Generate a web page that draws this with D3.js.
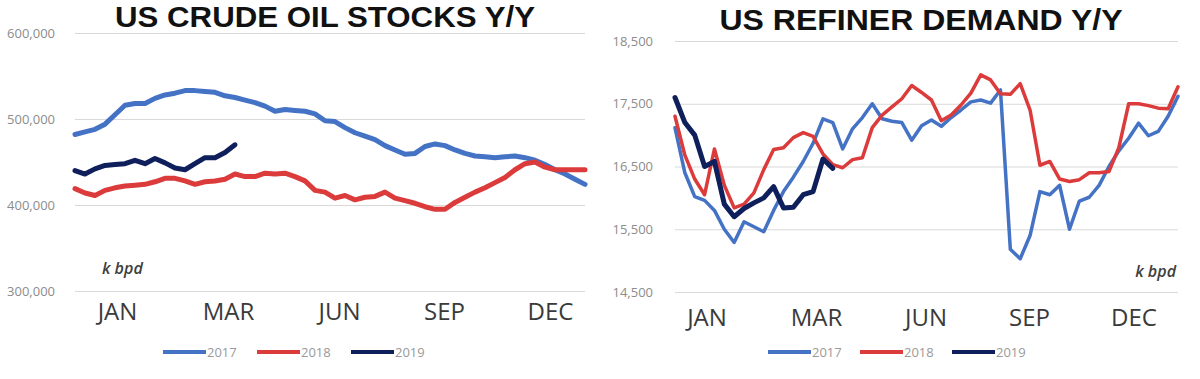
<!DOCTYPE html>
<html>
<head>
<meta charset="utf-8">
<script src="https://cdn.jsdelivr.net/npm/d3@7"></script>
<style>
  body { margin: 0; background: #fff; }
  svg { display: block; }
</style>
</head>
<body>
<svg id="chart" width="1200" height="379"></svg>
<script>
var years = ['2017', '2018', '2019'];
var colors = ['#4472C4', '#DB3B3B', '#0E1F5C'];
var months = ['JAN', 'MAR', 'JUN', 'SEP', 'DEC'];
var monthWeeks = [3.7, 14.8, 25.9, 36.4, 47];

// crude oil stocks, weekly (k bpd)
var stocks2017 = [482000, 485000, 488000, 494000, 505000, 516000, 518000, 518000, 524000, 528000,
  530000, 533000, 533000, 532000, 531000, 527000, 525000, 522000, 519000, 515000,
  509000, 511000, 510000, 509000, 506000, 498000, 497000, 490000, 484000, 480000,
  476000, 469000, 464000, 459000, 460000, 468000, 471000, 469000, 464000, 460000,
  457000, 456000, 455000, 456000, 457000, 455000, 452000, 447000, 441000, 436000,
  430000, 424000];
var stocks2018 = [419000, 414000, 411000, 417000, 420000, 422000, 423000, 424000, 427000, 431000,
  431000, 428000, 424000, 427000, 428000, 430000, 436000, 433000, 433000, 437000,
  436000, 437000, 433000, 428000, 417000, 415000, 408000, 411000, 406000, 409000,
  410000, 415000, 408000, 405000, 402000, 398000, 395000, 395000, 403000, 409000,
  415000, 420000, 426000, 432000, 441000, 448000, 450000, 444000, 441000, 441000,
  441000, 441000];
var stocks2019 = [440000, 436000, 442000, 446000, 447000, 448000, 452000, 448000, 454000, 449000,
  443000, 441000, 448000, 455000, 455000, 461000, 470000];
var stockTicks = [300000, 400000, 500000, 600000];

// refiner demand, weekly (k bpd)
var demand2017 = [17117, 16400, 16020, 15960, 15800, 15500, 15290, 15620, 15540, 15460,
  15800, 16100, 16330, 16580, 16870, 17260, 17200, 16780, 17100, 17280,
  17500, 17260, 17220, 17200, 16920, 17150, 17240, 17140, 17280, 17400,
  17530, 17560, 17510, 17720, 15180, 15030, 15400, 16100, 16050, 16200,
  15500, 15950, 16010, 16200, 16500, 16750, 16950, 17190, 16990, 17060,
  17300, 17620];
var demand2018 = [17300, 16680, 16300, 16050, 16780, 16200, 15840, 15900, 16080, 16450,
  16770, 16800, 16960, 17040, 16980, 16700, 16530, 16480, 16610, 16640,
  17120, 17320, 17450, 17580, 17790, 17680, 17560, 17230, 17320, 17480,
  17670, 17960, 17880, 17660, 17650, 17820, 17400, 16520, 16580, 16300,
  16260, 16290, 16400, 16400, 16420, 16800, 17500, 17500, 17470, 17430,
  17420, 17770];
var demand2019 = [17600, 17200, 17000, 16500, 16580, 15900, 15700, 15830, 15920, 16000,
  16180, 15840, 15850, 16050, 16100, 16620, 16470];
var demandTicks = [14500, 15500, 16500, 17500, 18500];

var svg = d3.select('#chart');

function drawChart(params) {
  var g = svg.append('g');
  var x = d3.scaleLinear().domain([0, 51]).range([params.left, params.right]);
  var y = d3.scaleLinear().domain(d3.extent(params.ticks)).range([params.bottom, params.top]);

  // gridlines + value labels
  var yAxis = g.append('g')
    .attr('transform', 'translate(' + params.left + ',0)')
    .call(d3.axisLeft(y)
      .tickValues(params.ticks)
      .tickFormat(d3.format(','))
      .tickSize(-(params.right - params.left))
      .tickPadding(params.yPad));
  yAxis.select('.domain').remove();
  yAxis.selectAll('line').attr('stroke', '#d9d9d9');
  yAxis.selectAll('text')
    .attr('fill', '#8c8c8c')
    .style('font-family', 'Open Sans, sans-serif')
    .style('font-size', '13px');

  // month labels
  var xAxis = g.append('g')
    .attr('transform', 'translate(0,' + params.bottom + ')')
    .call(d3.axisBottom(x)
      .tickValues(monthWeeks)
      .tickFormat(function(d, i) { return months[i]; })
      .tickSize(0)
      .tickPadding(params.xPad));
  xAxis.select('.domain').remove();
  xAxis.selectAll('text')
    .attr('dx', params.labelDx)
    .attr('fill', '#3a3a3a')
    .style('font-family', 'Open Sans, sans-serif')
    .style('font-size', '24px');

  var line = d3.line()
    .x(function(d, i) { return x(i); })
    .y(function(d) { return y(d); });

  params.series.forEach(function(s, i) {
    g.append('path')
      .datum(s)
      .attr('d', line)
      .attr('fill', 'none')
      .attr('stroke', colors[i])
      .attr('stroke-width', params.widths[i])
      .attr('stroke-linejoin', 'round')
      .attr('stroke-linecap', 'round');
  });

  g.append('text')
    .text(params.title)
    .attr('x', params.titleX)
    .attr('y', params.titleY)
    .attr('text-anchor', 'middle')
    .attr('textLength', params.titleLen)
    .attr('lengthAdjust', 'spacingAndGlyphs')
    .style('font-family', 'Liberation Sans, Arial, sans-serif')
    .style('font-weight', 'bold')
    .style('font-size', '29px')
    .style('fill', '#111');

  g.append('text')
    .text('k bpd')
    .attr('x', params.unitX)
    .attr('y', params.unitY)
    .attr('text-anchor', params.unitAnchor)
    .style('font-family', 'Open Sans, sans-serif')
    .style('font-style', 'italic')
    .style('font-weight', '600')
    .style('font-size', '16px')
    .style('fill', '#404040');

  // legend
  var leg = g.append('g').attr('transform', 'translate(' + params.legendX + ',352)');
  var item = leg.selectAll('g').data(years).enter().append('g')
    .attr('transform', function(d, i) { return 'translate(' + i * params.legendStep + ',0)'; });
  item.append('line')
    .attr('x1', 0).attr('x2', 43)
    .attr('stroke', function(d, i) { return colors[i]; })
    .attr('stroke-width', 4);
  item.append('text')
    .text(function(d) { return d; })
    .attr('x', 44)
    .attr('y', 5)
    .style('font-family', 'Open Sans, sans-serif')
    .style('font-size', '13px')
    .style('fill', '#999');
}

drawChart({
  title: 'US CRUDE OIL STOCKS Y/Y',
  titleX: 325, titleY: 27, titleLen: 420,
  series: [stocks2017, stocks2018, stocks2019],
  widths: [5, 5, 5],
  ticks: stockTicks,
  left: 75, right: 585, top: 33, bottom: 291,
  yPad: 20, xPad: 12, labelDx: 5,
  unitX: 102, unitY: 274, unitAnchor: 'start',
  legendX: 163, legendStep: 94
});

drawChart({
  title: 'US REFINER DEMAND Y/Y',
  titleX: 921, titleY: 30, titleLen: 403,
  series: [demand2017, demand2018, demand2019],
  widths: [3.5, 3.5, 5],
  ticks: demandTicks,
  left: 675, right: 1178, top: 41, bottom: 292,
  yPad: 22, xPad: 17, labelDx: -5,
  unitX: 1176, unitY: 277, unitAnchor: 'end',
  legendX: 768, legendStep: 92
});
</script>
</body>
</html>
